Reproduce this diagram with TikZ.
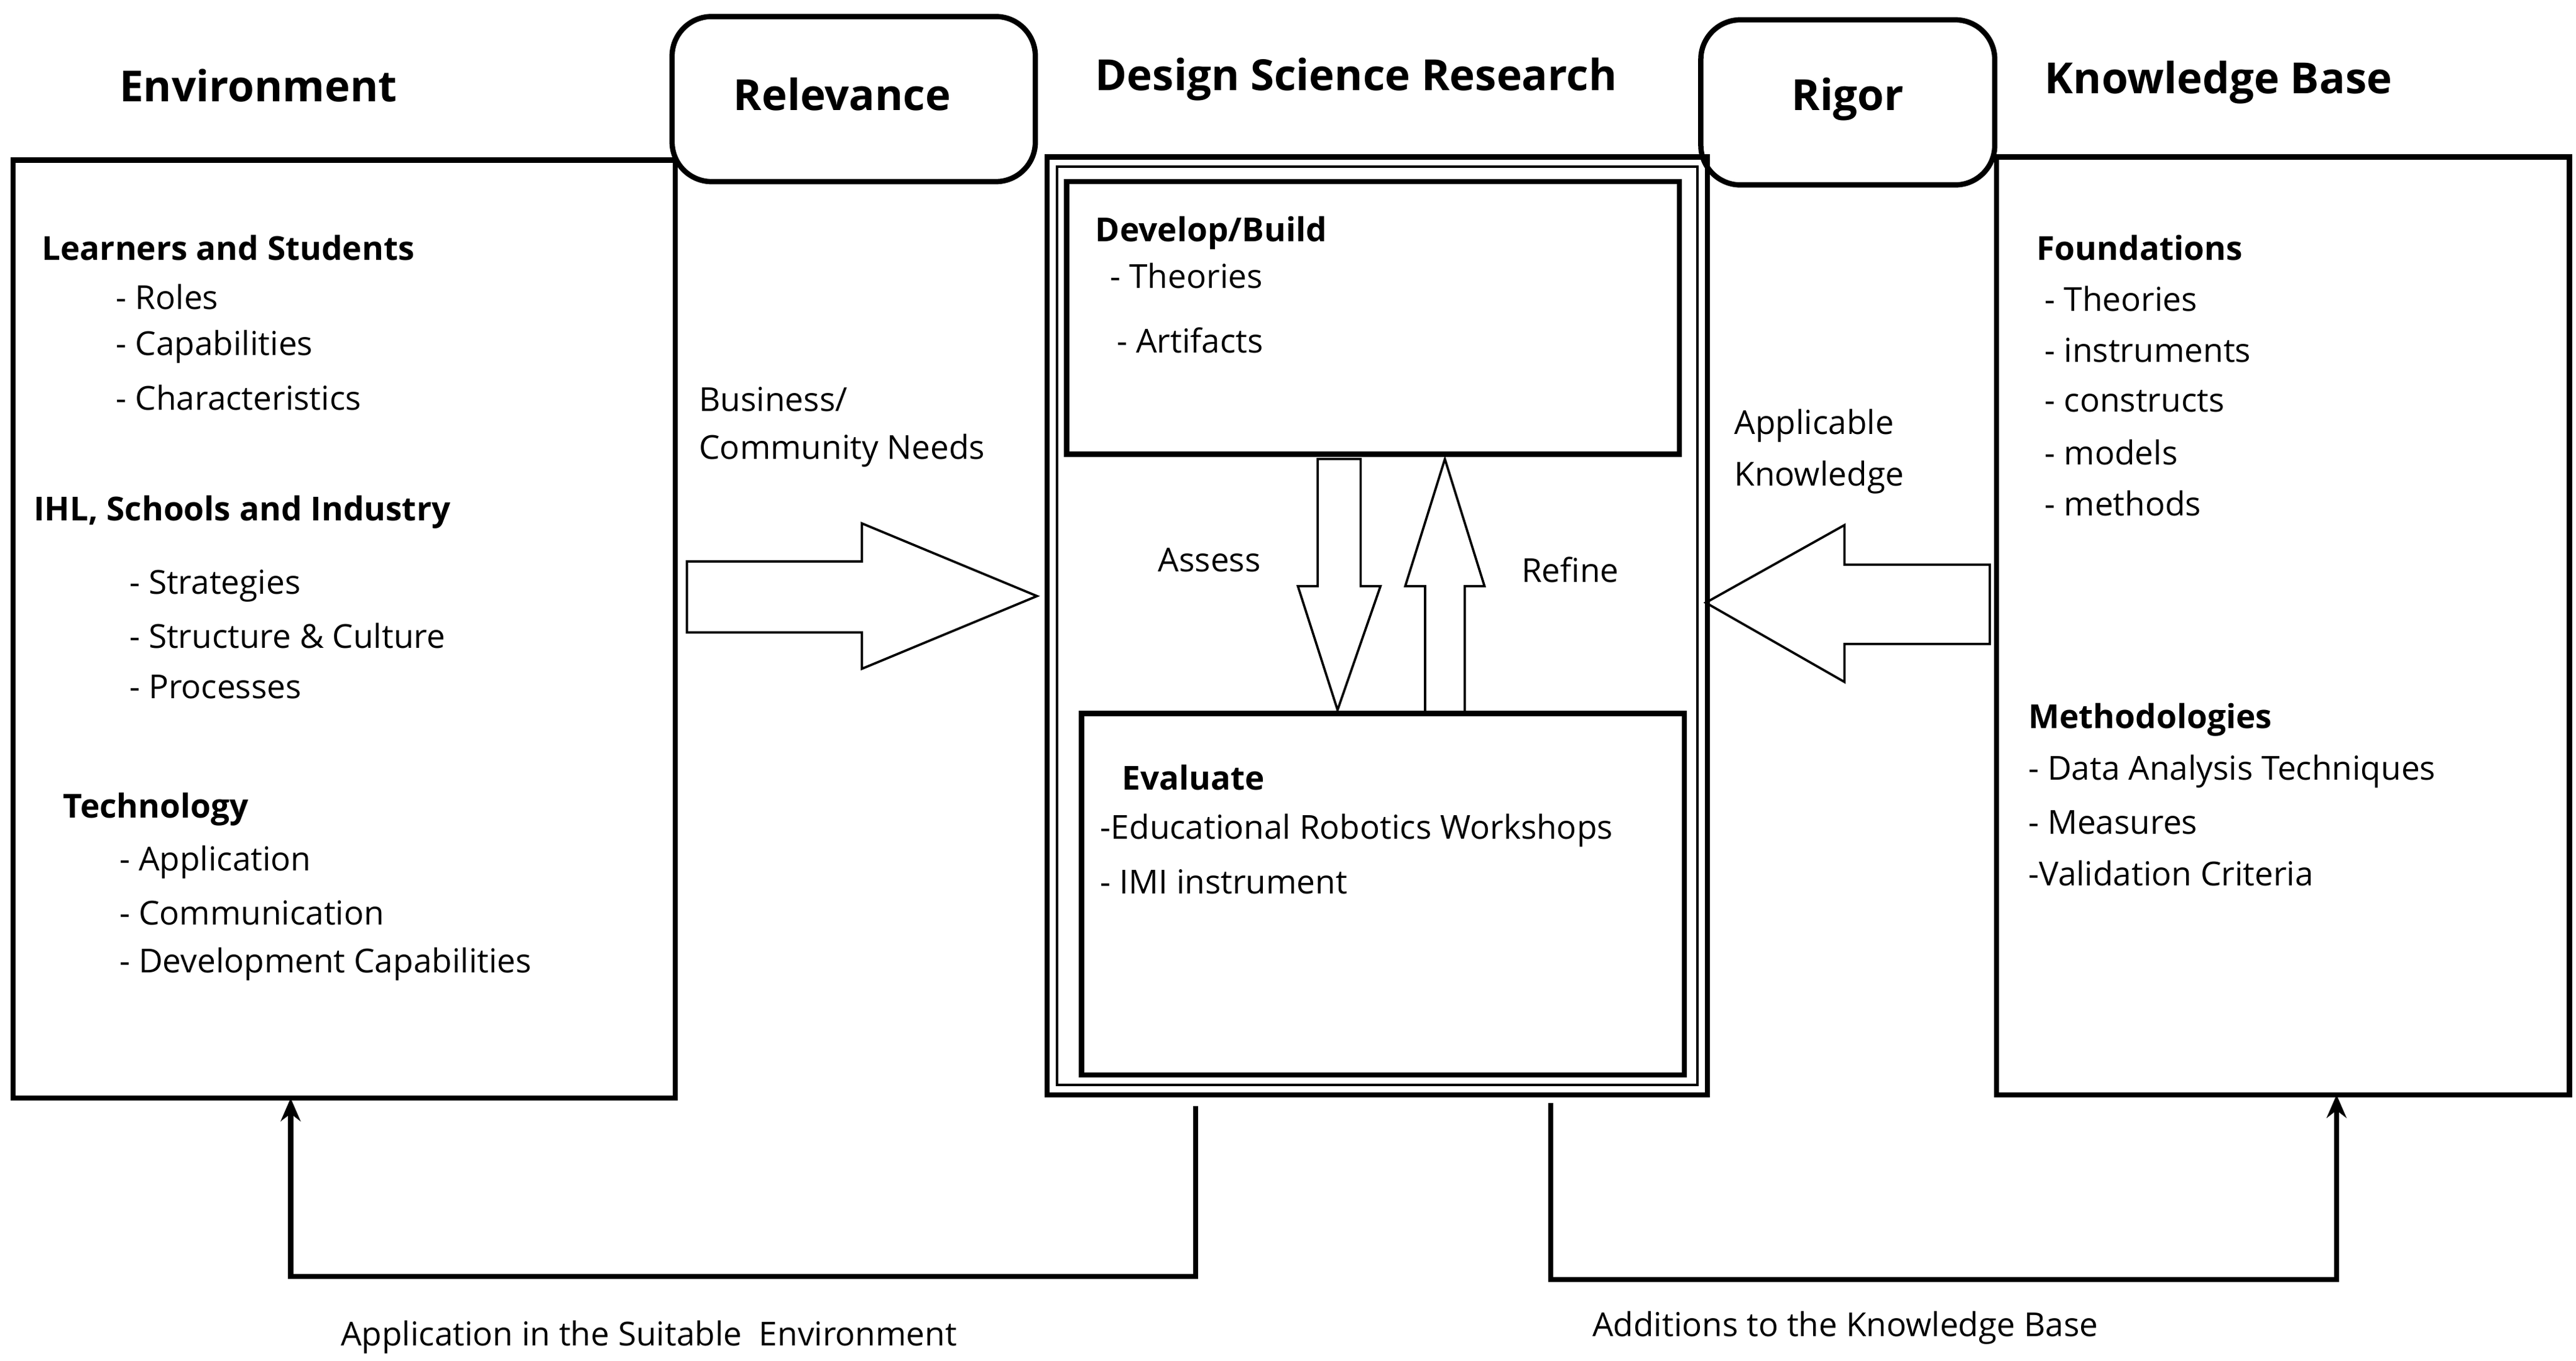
\documentclass[tikz,border=0pt]{standalone}
\usepackage{fontspec}
\setmainfont{Open Sans}
\usetikzlibrary{arrows.meta}
\begin{document}
\begin{tikzpicture}[x=0.5pt,y=-0.5pt,
 box/.style={line width=1.6pt},
 big/.style={line width=0.7pt},
 h/.style={font=\fontsize{13}{15}\selectfont\bfseries,anchor=west,inner sep=0},
 b/.style={font=\fontsize{10}{12}\selectfont\bfseries,anchor=west,inner sep=0},
 t/.style={font=\fontsize{10}{12}\selectfont,anchor=west,inner sep=0},
 fb/.style={line width=1.6pt,-{Stealth[length=7pt,width=6pt]}}]
\useasboundingbox (0,0) rectangle (1560,824);
% boxes
\draw[box] (8,97) rectangle (409,665);
\draw[box,rounded corners=12pt] (407,10) rectangle (627,110);
\draw[box] (634,95) rectangle (1034,663);
\draw[line width=0.8pt] (640,101) rectangle (1028,657);
\draw[box] (646,110) rectangle (1017,275);
\draw[box] (655,432) rectangle (1020,651);
\draw[box,rounded corners=12pt] (1030,12) rectangle (1208,112);
\draw[box] (1209,95) rectangle (1556,663);
% big arrows
\draw[big] (416,340) -- (522,340) -- (522,317) -- (628,361) -- (522,405) -- (522,383) -- (416,383) -- cycle;
\draw[big] (1205,342) -- (1117,342) -- (1117,318) -- (1033,365) -- (1117,413) -- (1117,390) -- (1205,390) -- cycle;
\draw[big] (798,278) -- (824,278) -- (824,355) -- (836,355) -- (810,430) -- (786,355) -- (798,355) -- cycle;
\draw[big] (863,432) -- (887,432) -- (887,355) -- (899,355) -- (875,278) -- (851,355) -- (863,355) -- cycle;
% feedback
\coordinate (f1) at (724,670); \coordinate (f1e) at (176,665);
\draw[fb] (f1) -- (724,773) -- (176,773) -- (f1e);
\coordinate (f2) at (939,668); \coordinate (f2e) at (1415,663);
\draw[fb] (f2) -- (939,775) -- (1415,775) -- (f2e);
% headings
\node[h] (n1) at (72,52) {Environment};
\node[h,anchor=center] (n2) at (510,57) {Relevance};
\node[h] (n3) at (663,48) {Design Science Research};
\node[h,anchor=center] (n4) at (1119,60) {Rigor};
\node[h] (n5) at (1238,50) {Knowledge Base};
% environment
\node[b] (e1) at (25,150) {Learners and Students};
\node[t] (e2) at (70,180) {- Roles};
\node[t] (e3) at (70,210) {- Capabilities};
\node[t] (e4) at (70,241) {- Characteristics};
\node[b] (e5) at (20,310) {IHL, Schools and Industry};
\node[t] (e6) at (78,355) {- Strategies};
\node[t] (e7) at (78,385) {- Structure \& Culture};
\node[t] (e8) at (78,416) {- Processes};
\node[b] (e9) at (38,490) {Technology};
\node[t] (e10) at (72,522) {- Application};
\node[t] (e11) at (72,553) {- Communication};
\node[t] (e12) at (72,584) {- Development Capabilities};
% DSR
\node[b] (d1) at (663,141) {Develop/Build};
\node[t] (d2) at (672,167) {- Theories};
\node[t] (d3) at (676,206) {- Artifacts};
\node[t] (r1) at (423,242) {Business/};
\node[t] (r2) at (423,273) {Community Needs};
\node[t] (a1) at (701,339) {Assess};
\node[t] (a2) at (921,345) {Refine};
\node[b] (v1) at (679,471) {Evaluate};
\node[t] (v2) at (666,503) {-Educational Robotics Workshops};
\node[t] (v3) at (666,534) {- IMI instrument};
\node[t] (g1) at (1050,258) {Applicable};
\node[t] (g2) at (1050,289) {Knowledge};
% KB
\node[b] (k1) at (1233,150) {Foundations};
\node[t] (k2) at (1238,181) {- Theories};
\node[t] (k3) at (1238,212) {- instruments};
\node[t] (k4) at (1238,243) {- constructs};
\node[t] (k5) at (1238,274) {- models};
\node[t] (k6) at (1238,305) {- methods};
\node[b] (k7) at (1228,436) {Methodologies};
\node[t] (k8) at (1228,467) {- Data Analysis Techniques};
\node[t] (k9) at (1228,498) {- Measures};
\node[t] (k10) at (1228,529) {-Validation Criteria};
% bottom
\node[t] (l1) at (206,810) {Application in the Suitable\ \ Environment};
\node[t] (l2) at (964,804) {Additions to the Knowledge Base};
\end{tikzpicture}
\end{document}
